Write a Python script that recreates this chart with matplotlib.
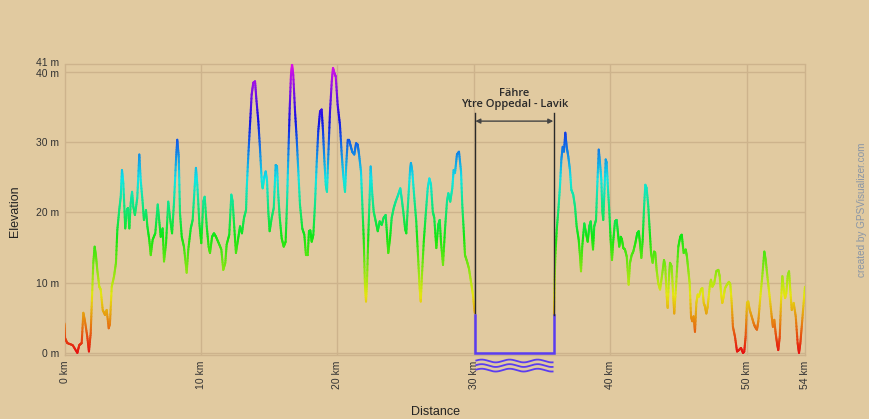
import numpy as np
import matplotlib
matplotlib.use("Agg")
import matplotlib.pyplot as plt
from matplotlib.collections import LineCollection
from matplotlib.transforms import ScaledTranslation
import colorsys

# ---------------- data ----------------
# track before the ferry (km, m)
dist_a = [0.0, 0.04, 0.2, 0.6, 0.94, 1.08, 1.26, 1.38, 1.5, 1.67, 1.79, 1.92, 1.99, 2.11, 2.21, 2.31,
          2.4, 2.55, 2.65, 2.8, 2.97, 3.09, 3.24, 3.33, 3.46, 3.63, 3.77, 3.87, 4.01, 4.12, 4.21, 4.31,
          4.45, 4.56, 4.65, 4.75, 4.85, 4.95, 5.04, 5.16, 5.33, 5.48, 5.58, 5.73, 5.82, 5.97, 6.07, 6.21,
          6.32, 6.46, 6.65, 6.83, 6.92, 7.05, 7.19, 7.29, 7.44, 7.6, 7.73, 7.88, 8.02, 8.17, 8.26, 8.37,
          8.46, 8.59, 8.75, 8.95, 9.07, 9.25, 9.39, 9.54, 9.63, 9.73, 9.88, 10.02, 10.17, 10.27, 10.42,
          10.56, 10.66, 10.81, 10.95, 11.1, 11.3, 11.49, 11.63, 11.78, 11.88, 12.07, 12.22, 12.32, 12.42,
          12.56, 12.71, 12.86, 13.0, 13.15, 13.3, 13.35, 13.47, 13.59, 13.71, 13.83, 13.96, 14.05, 14.2,
          14.32, 14.45, 14.52, 14.62, 14.74, 14.84, 14.93, 15.03, 15.18, 15.33, 15.47, 15.57, 15.66,
          15.77, 15.91, 16.06, 16.2, 16.3, 16.4, 16.5, 16.59, 16.67, 16.76, 16.89, 17.01, 17.13, 17.25,
          17.42, 17.57, 17.69, 17.82, 17.91, 18.01, 18.11, 18.23, 18.35, 18.48, 18.59, 18.72, 18.84,
          18.94, 19.03, 19.14, 19.23, 19.33, 19.45, 19.58, 19.67, 19.77, 19.87, 20.01, 20.18, 20.31,
          20.42, 20.55, 20.64, 20.75, 20.84, 20.94, 21.08, 21.23, 21.36, 21.48, 21.58, 21.72, 21.82,
          21.92, 22.01, 22.09, 22.16, 22.26, 22.36, 22.43, 22.55, 22.65, 22.8, 22.95, 23.09, 23.24,
          23.38, 23.53, 23.63, 23.72, 23.85, 23.97, 24.12, 24.26, 24.45, 24.6, 24.7, 24.82, 24.95,
          25.04, 25.19, 25.31, 25.38, 25.48, 25.63, 25.77, 25.92, 26.02, 26.1, 26.19, 26.32, 26.46,
          26.61, 26.73, 26.85, 26.98, 27.09, 27.24, 27.38, 27.49, 27.58, 27.73, 27.88, 28.02, 28.12,
          28.26, 28.41, 28.51, 28.61, 28.75, 28.9, 29.05, 29.14, 29.25, 29.34, 29.49, 29.63, 29.78,
          29.93, 30.05]
elev_a = [4.2, 2.1, 1.4, 1.1, 0.0, 1.1, 1.4, 5.7, 4.5, 2.3, 0.2, 2.8, 6.6, 12.8, 15.1, 13.7,
          11.8, 9.4, 9.0, 6.1, 5.4, 6.1, 3.5, 4.2, 9.4, 10.9, 12.8, 17.5, 20.3, 22.2, 26.0, 24.1,
          17.7, 20.3, 20.6, 17.7, 21.3, 22.9, 20.8, 19.6, 22.0, 28.2, 24.6, 21.3, 18.9, 20.3, 18.0, 16.1,
          13.9, 16.1, 17.0, 21.1, 19.2, 16.5, 17.7, 13.0, 15.6, 21.5, 19.2, 17.0, 21.3, 27.5, 30.3, 27.9,
          19.9, 16.5, 15.1, 11.4, 14.7, 17.7, 18.9, 23.7, 26.3, 23.9, 18.4, 15.6, 21.5, 22.2, 18.0,
          15.1, 14.2, 16.5, 17.0, 16.5, 15.6, 14.7, 11.8, 12.8, 15.4, 16.8, 22.5, 21.5, 18.4,
          14.2, 16.1, 18.0, 17.0, 19.2, 20.3, 23.4, 28.2, 32.4, 36.7, 38.4, 38.6, 36.2, 32.9,
          29.1, 24.4, 23.4, 24.8, 25.8, 24.4, 20.1, 17.3, 19.2, 20.6, 26.7, 26.5, 22.5,
          19.2, 16.3, 15.1, 15.8, 21.1, 28.2, 34.8, 39.5, 41.0, 39.5, 34.3, 30.5, 25.8, 21.1,
          17.7, 16.8, 13.9, 13.9, 17.3, 17.4, 15.8, 16.8, 21.1, 27.2, 31.5, 34.3, 34.6,
          31.5, 27.7, 23.9, 22.9, 28.2, 34.3, 38.6, 40.5, 39.8, 39.3, 35.3, 32.4, 28.2,
          25.3, 22.9, 26.7, 30.3, 30.3, 29.6, 28.6, 28.2, 29.8, 29.6, 28.2, 25.8, 21.1,
          16.3, 9.7, 7.3, 10.1, 16.8, 22.5, 26.5, 22.5, 20.1, 18.7, 17.3, 18.7, 18.2,
          19.2, 19.6, 16.8, 14.2, 16.3, 19.2, 20.6, 21.5, 22.5, 23.4, 22.0, 20.1, 17.7,
          17.0, 22.0, 25.8, 27.0, 25.8, 22.0, 18.7, 13.0, 9.2, 7.3, 11.1, 15.8, 19.6,
          23.4, 24.8, 23.9, 20.1, 19.2, 14.9, 18.2, 18.9, 15.8, 12.5, 17.7, 21.5, 22.7,
          21.5, 23.4, 26.0, 25.6, 28.2, 28.6, 25.8, 21.1, 17.3, 13.9, 13.0, 12.0, 10.1,
          8.2, 5.7]

# track after the ferry (km, m)
dist_b = [35.86, 35.91, 35.96, 36.06, 36.18, 36.3, 36.4, 36.5, 36.59, 36.69, 36.79, 36.91, 37.03,
          37.13, 37.27, 37.4, 37.52, 37.67, 37.77, 37.84, 37.93, 38.08, 38.21, 38.33, 38.45, 38.55,
          38.64, 38.72, 38.81, 38.94, 39.03, 39.14, 39.23, 39.33, 39.4, 39.47, 39.55, 39.65, 39.72,
          39.82, 39.91, 40.01, 40.11, 40.21, 40.33, 40.45, 40.55, 40.64, 40.75, 40.84, 40.94, 41.06,
          41.19, 41.33, 41.43, 41.55, 41.67, 41.82, 41.96, 42.07, 42.16, 42.26, 42.36, 42.45, 42.55,
          42.65, 42.77, 42.87, 42.97, 43.09, 43.19, 43.28, 43.38, 43.5, 43.63, 43.77, 43.92, 44.01,
          44.12, 44.19, 44.29, 44.36, 44.48, 44.6, 44.67, 44.8, 44.97, 45.11, 45.22, 45.36, 45.51,
          45.6, 45.7, 45.8, 45.9, 45.99, 46.09, 46.19, 46.29, 46.39, 46.48, 46.63, 46.73, 46.83,
          46.92, 47.02, 47.12, 47.27, 47.36, 47.46, 47.6, 47.75, 47.9, 48.0, 48.1, 48.19, 48.29,
          48.39, 48.53, 48.68, 48.78, 48.88, 48.97, 49.12, 49.27, 49.41, 49.56, 49.71, 49.8, 49.9,
          50.0, 50.09, 50.2, 50.34, 50.49, 50.59, 50.73, 50.83, 50.98, 51.12, 51.27, 51.37, 51.52,
          51.66, 51.81, 51.9, 52.0, 52.1, 52.2, 52.29, 52.4, 52.49, 52.59, 52.69, 52.79, 52.88,
          52.98, 53.08, 53.17, 53.28, 53.42, 53.57, 53.71, 53.81, 53.91, 54.01, 54.15, 54.25]
elev_b = [5.4, 10.4, 13.7, 17.5, 20.3, 23.7, 27.5, 29.3, 28.6, 31.3, 29.3, 27.9, 26.0,
          23.2, 22.5, 20.8, 18.0, 16.1, 13.7, 11.6, 15.1, 18.4, 17.0, 15.8, 18.0, 18.7,
          16.8, 14.7, 18.0, 18.9, 23.7, 28.9, 27.0, 24.6, 20.3, 18.9, 22.7, 27.5, 27.0,
          23.2, 20.3, 16.1, 13.2, 16.1, 18.7, 18.9, 17.0, 15.1, 16.5, 16.1, 14.9, 14.7,
          13.7, 9.7, 12.8, 13.9, 14.4, 15.6, 17.0, 17.3, 15.6, 13.5, 16.1, 20.3, 23.9,
          23.4, 20.8, 17.5, 14.2, 12.8, 14.4, 14.2, 11.8, 9.9, 9.0, 10.9, 13.2, 12.3,
          8.0, 6.4, 10.9, 12.8, 12.3, 8.0, 5.6, 9.4, 15.1, 16.5, 16.8, 14.2, 14.7,
          13.7, 11.8, 9.9, 5.2, 4.5, 5.2, 3.0, 7.1, 8.3, 8.0, 9.0, 9.2, 7.1,
          6.6, 5.6, 6.6, 9.4, 10.4, 9.4, 9.9, 11.6, 11.8, 10.9, 8.5, 7.1, 8.0,
          9.2, 9.7, 10.1, 9.7, 7.1, 3.7, 2.3, 0.2, 0.4, 0.7, 0.0, 0.2, 2.3,
          7.1, 7.3, 6.1, 5.2, 4.2, 3.7, 3.3, 4.5, 8.0, 10.9, 14.4, 13.2, 10.4,
          8.0, 5.2, 3.7, 4.7, 2.8, 1.4, 0.4, 2.3, 7.1, 10.9, 9.0, 7.8, 8.5,
          10.9, 11.6, 9.0, 6.1, 7.1, 5.2, 1.4, 0.0, 1.4, 3.7, 7.1, 9.4]

ferry_name = "Fähre"
ferry_route = "Ytre Oppedal - Lavik"
y_ticks = [0, 10, 20, 30, 40, 41]
y_labels = ["0 m", "10 m", "20 m", "30 m", "40 m", "41 m"]
x_ticks = [0, 10, 20, 30, 40, 50, 54.25]
x_labels = ["0 km", "10 km", "20 km", "30 km", "40 km", "50 km", "54 km"]

# ---------------- style ----------------
BG = "#e1caa0"
GRID = "#cdb38c"
FERRY = "#5a3cf0"
TEXT = "#333333"
EMAX = 41.0


def elev_color(e):
    h = min(max(e / EMAX, 0.0), 1.0) * 0.83
    return colorsys.hsv_to_rgb(h, 0.93, 0.9)


def colored_track(ax, d, e):
    d = np.asarray(d, float)
    e = np.asarray(e, float)
    segs, cols = [], []
    n_sub = 8
    for i in range(len(d) - 1):
        t = np.linspace(0, 1, n_sub + 1)
        xs = d[i] + (d[i + 1] - d[i]) * t
        ys = e[i] + (e[i + 1] - e[i]) * t
        for k in range(n_sub):
            segs.append([(xs[k], ys[k]), (xs[k + 1], ys[k + 1])])
            cols.append(elev_color(0.5 * (ys[k] + ys[k + 1])))
    lc = LineCollection(segs, colors=cols, linewidths=1.5, capstyle="round", zorder=3)
    ax.add_collection(lc)


W, H = 869, 419
fig = plt.figure(figsize=(W / 100, H / 100), dpi=100, facecolor=BG)
left, right, top, bottom = 64.5, 805, 64.5, 355
ax = fig.add_axes([left / W, 1 - bottom / H, (right - left) / W, (bottom - top) / H])
ax.set_facecolor(BG)
ax.set_xlim(0, dist_b[-1])
ax.set_ylim(-0.3, EMAX)

for yt in y_ticks[:-1]:
    ax.axhline(yt, color=GRID, lw=1.0, zorder=1)
for xt in x_ticks[1:-1]:
    ax.axvline(xt, color=GRID, lw=1.0, zorder=1)
for sp in ax.spines.values():
    sp.set_color(GRID)
    sp.set_linestyle((0, (1, 1)))
    sp.set_linewidth(1.0)

ax.set_yticks(y_ticks)
ax.set_yticklabels(y_labels)
ax.set_xticks(x_ticks)
ax.set_xticklabels(x_labels, rotation=90)
ax.tick_params(length=0, labelsize=7.5, labelcolor=TEXT, pad=4)
for lab in ax.get_xticklabels() + ax.get_yticklabels():
    lab.set_family("Liberation Sans")
# nudge the top label up slightly, as in the reference
ylabs = ax.get_yticklabels()
ylabs[-1].set_transform(ylabs[-1].get_transform() + ScaledTranslation(0, 1.5 / 72, fig.dpi_scale_trans))
ylabs[-2].set_transform(ylabs[-2].get_transform() + ScaledTranslation(0, -1.0 / 72, fig.dpi_scale_trans))

colored_track(ax, dist_a, elev_a)
colored_track(ax, dist_b, elev_b)

# ferry crossing
f0, f1 = dist_a[-1], dist_b[0]
ax.plot([f0, f0, f1, f1], [elev_a[-1] - 0.3, 0.0, 0.0, elev_b[0]], color=FERRY, lw=1.8,
        zorder=4, solid_joinstyle="miter")
top_line = 34.1
ax.plot([f0, f0], [elev_a[-1], top_line], color="#2a2a2a", lw=1.0, zorder=5)
ax.plot([f1, f1], [elev_b[0], top_line], color="#2a2a2a", lw=1.0, zorder=5)
ax.annotate("", xy=(f1 - 0.05, 32.95), xytext=(f0 + 0.05, 32.95),
            arrowprops=dict(arrowstyle="<|-|>", color="#444444", lw=1.0,
                            mutation_scale=7, shrinkA=0, shrinkB=0), zorder=5)
xm = 0.5 * (f0 + f1)
ax.text(xm, 36.9, ferry_name, ha="center", va="center", fontsize=8, color="#2a2a2a",
        family="Open Sans", fontweight="semibold", zorder=6)
ax.text(xm, 35.3, ferry_route, ha="center", va="center", fontsize=8, color="#2a2a2a",
        family="Open Sans", fontweight="semibold", zorder=6)

# waves under the ferry
wx = np.linspace(f0 + 0.12, f1 - 0.1, 200)
for base in (-1.15, -1.8, -2.45):
    wy = base + 0.2 * np.sin((wx - f0) / 2.05 * 2 * np.pi)
    ax.plot(wx, wy, color=FERRY, lw=1.3, clip_on=False, zorder=4)

fig.text(15 / W, 1 - 211 / H, "Elevation", rotation=90, ha="center", va="center",
         fontsize=9, color="#222222", family="Liberation Sans")
fig.text(435 / W, 1 - 412 / H, "Distance", ha="center", va="center",
         fontsize=9, color="#222222", family="Liberation Sans")
fig.text(862 / W, 1 - 210 / H, "created by GPSVisualizer.com", rotation=90, ha="center",
         va="center", fontsize=7.2, color="#8a96a6", family="Liberation Sans")

fig.savefig("out.png", dpi=100, facecolor=BG)
